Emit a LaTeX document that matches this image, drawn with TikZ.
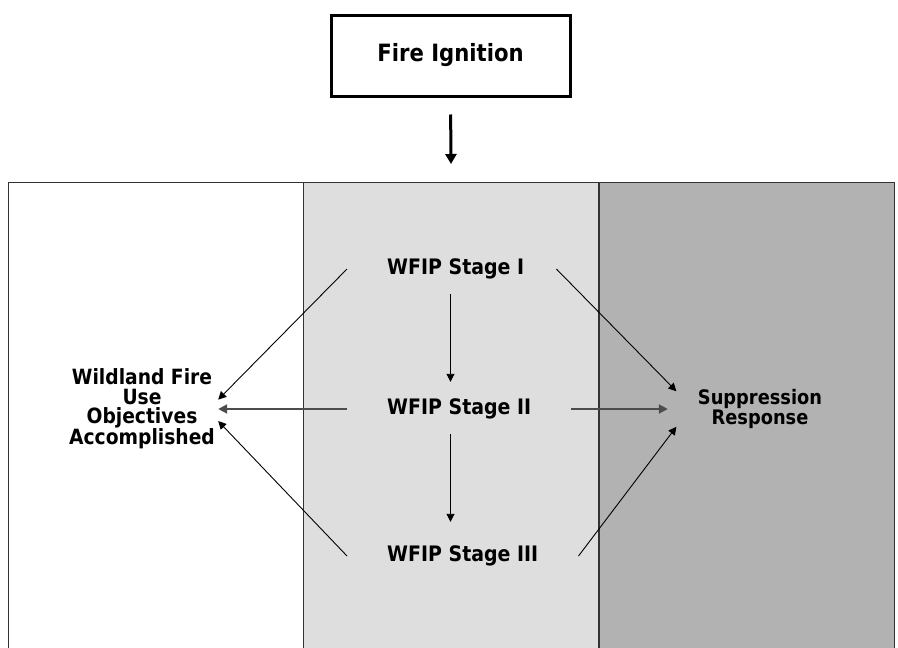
\documentclass[tikz,border=0pt]{standalone}
\usepackage{fontspec}
\setmainfont{DejaVu Sans}[FakeStretch=0.89]
\usetikzlibrary{positioning,shapes.geometric,arrows.meta}

\begin{document}
\begin{tikzpicture}[x=1pt, y=-1pt,
		column/.style={rectangle, draw=black!80, line width=1.3pt, anchor=north west, minimum width=295pt, minimum height=475pt, inner sep=0pt},
		title/.style={rectangle, draw=black, line width=3pt, minimum width=239pt, minimum height=81pt, font=\fontsize{23.8}{26}\selectfont\bfseries},
		stage/.style={rectangle, anchor=west, inner xsep=40pt, inner ysep=0pt, minimum height=50pt, font=\fontsize{21.3}{19}\selectfont\bfseries},
		outcome/.style={rectangle, align=center, inner xsep=0pt, font=\fontsize{21}{19.3}\selectfont\bfseries},
		flow/.style={-{Triangle[length=8pt,width=8pt]}, line width=0.9pt, draw=black},
		link/.style={-{Triangle[length=9pt,width=9pt]}, line width=2pt, draw=black!70},
		]
		\useasboundingbox (0,0) rectangle (898,648);

		%Columns
		\node[column]					(leftcol)	at (8,182)		{};
		\node[column, fill=black!13]	(midcol)	at (303,182)	{};
		\node[column, fill=black!30]	(rightcol)	at (599,182)	{};

		%Ignition
		\node[title]	(ignition)	at (450.5,55.5)	{Fire Ignition};
		\draw[-{Triangle[length=10pt,width=11pt]}, line width=3pt, shorten <=17pt, shorten >=18pt] (ignition.south) -- (midcol.north);

		%Stages
		\node[stage]	(stage1)	at (347,269)	{WFIP Stage I};
		\node[stage]	(stage2)	at (347,409)	{WFIP Stage II};
		\node[stage]	(stage3)	at (347,556)	{WFIP Stage III};
		\draw[flow, shorten >=2pt]	(stage1.south -| ignition)	--	(stage2.north -| ignition);
		\draw[flow, shorten >=9pt]	(stage2.south -| ignition)	--	(stage3.north -| ignition);

		%Outcomes
		\node[outcome, minimum width=152pt]	(wfu)	at (142,409)	{Wildland Fire\\Use\\Objectives\\Accomplished};
		\node[ellipse, inner sep=0pt, minimum width=184pt, minimum height=84pt, align=center, font=\fontsize{20}{18}\selectfont\bfseries]	(supp)	at (760,409)	{Suppression\\Response};
		\draw[flow]	(stage1.west)	--	(wfu.7);
		\draw[link]	(stage2.west)	--	(wfu.east);
		\draw[flow]	(stage3.west)	--	(wfu.-9);
		\draw[flow]	([xshift=-8pt]stage1.east)	--	(supp.168);
		\draw[link]	(stage2.east)	--	(supp.west);
		\draw[flow]	(stage3.east)	--	(supp.192);

	\end{tikzpicture}
\end{document}
